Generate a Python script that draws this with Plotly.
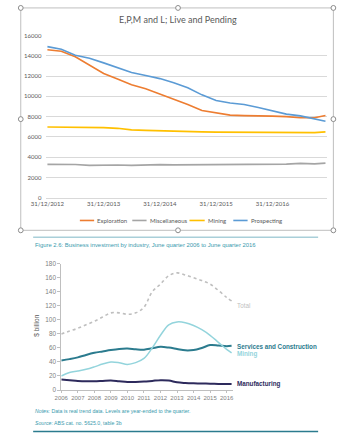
import plotly.graph_objects as go

W, H = 341, 436
def px(x): return x / W
def py(y): return 1 - y / H

# ---------------- Top chart data ----------------
top_title = "E,P,M and L; Live and Pending"
top_dates = ['2012-12-31', '2013-03-31', '2013-06-30', '2013-09-30', '2013-12-31',
             '2014-03-31', '2014-06-30', '2014-09-30', '2014-12-31', '2015-03-31',
             '2015-06-30', '2015-09-30', '2015-12-31', '2016-03-31', '2016-06-30',
             '2016-09-30', '2016-12-31', '2017-03-31', '2017-06-30', '2017-09-30',
             '2017-12-10']
exploration = [14600, 14450, 13900, 13050, 12250, 11700, 11150, 10750, 10250, 9750,
               9200, 8600, 8350, 8150, 8100, 8100, 8050, 8000, 7900, 7900, 8120]
miscellaneous = [3300, 3300, 3280, 3200, 3250, 3230, 3200, 3250, 3270, 3250,
                 3250, 3260, 3250, 3250, 3270, 3280, 3300, 3320, 3400, 3350, 3420]
mining_top = [6980, 6970, 6950, 6920, 6920, 6850, 6700, 6650, 6600, 6550,
              6500, 6500, 6480, 6480, 6490, 6480, 6470, 6450, 6420, 6430, 6500]
prospecting = [14900, 14650, 14050, 13750, 13300, 12800, 12350, 12050, 11750, 11350,
               10850, 10150, 9600, 9350, 9200, 8900, 8550, 8250, 8080, 7800, 7550]
top_names = ["Exploration", "Miscellaneous", "Mining", "Prospecting"]
top_colors = ["#ED7D31", "#A5A5A5", "#FFC000", "#5B9BD5"]
top_tickvals = ['2012-12-31', '2013-12-31', '2014-12-31', '2015-12-31', '2016-12-31']
top_ticktext = ['31/12/2012', '31/12/2013', '31/12/2014', '31/12/2015', '31/12/2016']
top_yticks = [0, 2000, 4000, 6000, 8000, 10000, 12000, 14000, 16000]

# ---------------- Bottom chart data ----------------
caption = "Figure 2.6: Business investment by industry, June quarter 2006 to June quarter 2016"
years = [2006.0, 2006.5, 2007.0, 2007.5, 2008.0, 2008.5, 2009.0, 2009.5, 2010.0, 2010.5,
         2011.0, 2011.5, 2012.0, 2012.5, 2013.0, 2013.5, 2014.0, 2014.5, 2015.0, 2015.5,
         2016.0, 2016.3]
total = [80, 84, 88, 93, 98, 104, 110, 110, 108, 110, 118, 140, 151, 163, 167, 164,
         160, 156, 151, 142, 132, 127]
services = [42, 44, 46.5, 50, 53, 55, 57, 58.5, 59, 58, 57.5, 59.5, 61.5, 60.5, 58.5,
            56.5, 57, 60, 64, 63.5, 62.5, 63]
mining_bot = [20, 25, 27, 29.5, 33, 37, 40, 39, 36.5, 39, 45, 60, 78, 93, 97, 96, 92,
              86, 78, 68, 58, 53]
manufacturing = [15, 14, 13, 12.5, 12.5, 13, 13.5, 12.5, 11.5, 11.5, 12, 13, 14, 13.5,
                 11, 10, 9.5, 9.2, 9, 8.7, 8.5, 8.4]
bot_years = list(range(2006, 2017))
bot_yticks = list(range(0, 181, 20))
notes = "<i>Notes:</i> Data is real trend data. Levels are year-ended to the quarter."
source = "<i>Source:</i> ABS cat. no. 5625.0, table 3b"

fig = go.Figure()

for name, vals, col in zip(top_names, [exploration, miscellaneous, mining_top, prospecting], top_colors):
    fig.add_trace(go.Scatter(x=top_dates, y=vals, name=name, mode='lines',
                             line=dict(color=col, width=1.6), xaxis='x', yaxis='y',
                             showlegend=False))

bot_series = [
    ("Total", total, "#BFBFBF", 'dot', 1.6, "Total", 120, False),
    ("Services and Construction", services, "#2B7B8E", 'solid', 2, "Services and Construction", 62.5, True),
    ("Mining", mining_bot, "#93D4DC", 'solid', 1.5, "Mining", 52, True),
    ("Manufacturing", manufacturing, "#2D2A5C", 'solid', 2, "Manufacturing", 8, True),
]
annotations = []
for name, vals, col, dash, w, lab, ly, bold in bot_series:
    fig.add_trace(go.Scatter(x=years, y=vals, name=name, mode='lines', line_shape='spline',
                             line=dict(color=col, width=w, dash=dash), xaxis='x2', yaxis='y2',
                             showlegend=False))
    annotations.append(dict(x=px(229.5), y=ly, xref='paper', yref='y2', xanchor='left',
                            yanchor='middle', showarrow=False,
                            text=("<b>%s</b>" % lab) if bold else lab,
                            font=dict(family="Liberation Sans", size=6.3, color=col)))

# Title
annotations.append(dict(x=px(170), y=py(16), xref='paper', yref='paper', showarrow=False,
                        text=top_title, font=dict(family="Lato", size=9, color="#595959"),
                        xanchor='center', yanchor='middle'))

# Manual legend for top chart
leg_line = [(67, 82), (122, 137), (182, 198), (228, 243)]
shapes = []
for (x0, x1), name, col in zip(leg_line, top_names, top_colors):
    shapes.append(dict(type='line', xref='paper', yref='paper', x0=px(x0), x1=px(x1),
                       y0=py(220), y1=py(220), line=dict(color=col, width=1.6)))
    annotations.append(dict(x=px(x1 + 1), y=py(220), xref='paper', yref='paper',
                            xanchor='left', yanchor='middle', showarrow=False, text=name,
                            font=dict(family="Lato", size=6, color="#595959")))

# Frame with handles
shapes.append(dict(type='rect', xref='paper', yref='paper', x0=px(5), x1=px(333),
                   y0=py(230), y1=py(4), line=dict(color="#BFBFBF", width=1)))
for hx, hy in [(5, 4), (170, 4), (333, 4), (5, 117), (333, 117), (5, 230), (170, 230), (333, 230)]:
    shapes.append(dict(type='circle', xref='paper', yref='paper', x0=px(hx - 2.5), x1=px(hx + 2.5),
                       y0=py(hy + 2.5), y1=py(hy - 2.5), fillcolor='white',
                       line=dict(color="#8C8C8C", width=1)))

# Rules
shapes.append(dict(type='line', xref='paper', yref='paper', x0=px(18), x1=px(317),
                   y0=py(237), y1=py(237), line=dict(color="#A9CFD9", width=1.5)))
shapes.append(dict(type='line', xref='paper', yref='paper', x0=px(18), x1=px(317),
                   y0=py(434.5), y1=py(434.5), line=dict(color="#2B7B8E", width=1.5)))

# Caption, notes, source
annotations.append(dict(x=px(18), y=py(245), xref='paper', yref='paper', xanchor='left',
                        yanchor='middle', showarrow=False, text=caption,
                        font=dict(family="Liberation Sans", size=5.9, color="#3A9AAE")))
annotations.append(dict(x=px(18), y=py(414), xref='paper', yref='paper', xanchor='left',
                        yanchor='middle', showarrow=False, text=notes,
                        font=dict(family="Liberation Sans", size=5.2, color="#3A9AAE")))
annotations.append(dict(x=px(18), y=py(426), xref='paper', yref='paper', xanchor='left',
                        yanchor='middle', showarrow=False, text=source,
                        font=dict(family="Liberation Sans", size=5.2, color="#3A9AAE")))
# Y axis title bottom
annotations.append(dict(x=px(22), y=py(327), xref='paper', yref='paper', xanchor='center',
                        yanchor='middle', showarrow=False, text="$ billion", textangle=-90,
                        font=dict(family="Liberation Sans", size=6.5, color="#595959")))

fig.update_layout(
    width=W, height=H, margin=dict(l=0, r=0, t=0, b=0),
    paper_bgcolor='white', plot_bgcolor='white', showlegend=False,
    xaxis=dict(domain=[px(32), px(326)], type='date', range=['2012-12-25', '2017-12-18'],
               tickvals=top_tickvals, ticktext=top_ticktext, showgrid=False,
               showline=True, linecolor="#D9D9D9", linewidth=1, ticks='', tickangle=0,
               tickfont=dict(family="Lato", size=6, color="#595959"), anchor='y'),
    yaxis=dict(domain=[py(197), py(32)], range=[0, 16000], tickvals=top_yticks,
               ticktext=[str(v) for v in top_yticks],
               showgrid=True, gridcolor="#D9D9D9", gridwidth=1, zeroline=False,
               showline=False, ticks='', ticklabelstandoff=4,
               tickfont=dict(family="Lato", size=6, color="#595959"), anchor='x'),
    xaxis2=dict(domain=[px(47.5), px(47.5 + 10.4 * 17.35)], range=[2006, 2016.4],
                tickvals=bot_years, ticktext=[str(y) for y in bot_years], showgrid=False,
                showline=True, linecolor="#BFBFBF", linewidth=1, ticks='outside', ticklen=2,
                tickcolor="#BFBFBF", zeroline=False, tickangle=0,
                tickfont=dict(family="Liberation Sans", size=6, color="#7F7F7F"), anchor='y2'),
    yaxis2=dict(domain=[py(392.3), py(264)], range=[0, 180], tickvals=bot_yticks,
                showgrid=False, zeroline=False, showline=True, linecolor="#BFBFBF",
                linewidth=1, ticks='outside', ticklen=3, tickcolor="#BFBFBF",
                tickfont=dict(family="Liberation Sans", size=6.4, color="#7F7F7F"), anchor='x2'),
    shapes=shapes, annotations=annotations,
)

fig.write_html("out.html")
